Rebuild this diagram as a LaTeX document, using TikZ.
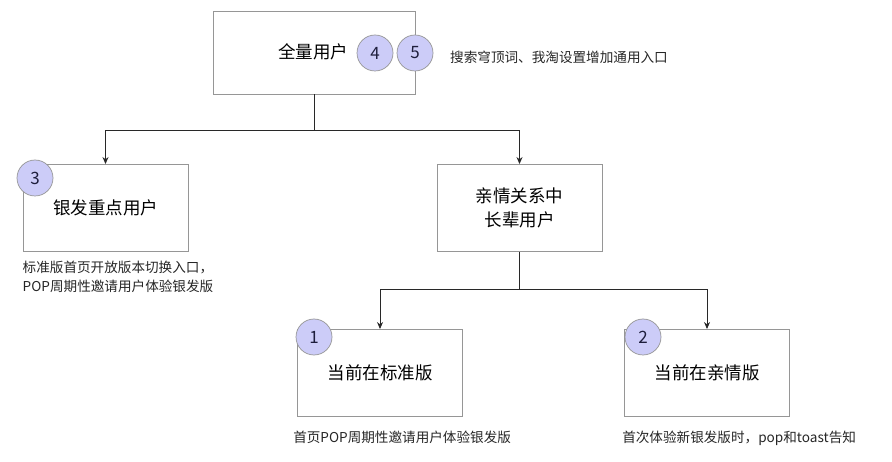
\documentclass[tikz,border=0pt]{standalone}
\usepackage{fontspec}
\setmainfont{Noto Sans CJK SC}
\usepackage{tikz}
\usetikzlibrary{arrows.meta,positioning}
\usepackage{xcolor}
\definecolor{boxline}{RGB}{150,150,150}
\definecolor{badgefill}{RGB}{204,204,248}
\definecolor{badgetext}{RGB}{30,30,60}
\definecolor{wire}{RGB}{40,40,40}

\begin{document}
\begin{tikzpicture}[
      x=1pt, y=-1pt, >={Stealth[length=7pt,width=6pt]},
      group/.style={draw=boxline, line width=0.9pt, align=center, minimum width=165pt,
                    minimum height=87pt, inner sep=0pt, font=\fontsize{17.5}{24}\selectfont},
      badge/.style={draw=boxline, circle, fill=badgefill, minimum size=36pt, inner sep=0pt,
                    line width=0.7pt, text=badgetext, font=\fontsize{17}{20}\selectfont},
      note/.style={inner sep=0pt, align=left, text=black!85,
                   font=\fontsize{13.6}{19}\selectfont},
      wirestyle/.style={draw=wire, line width=0.9pt}
    ]
    \useasboundingbox (0,0) rectangle (892,462);

    \node[group, minimum width=202pt, minimum height=83pt] (all) at (314,52.5) {};
    \node[font=\fontsize{17.5}{20}\selectfont] (alltext) at (313,52) {全量用户};
    \node[badge] (b4) at (375,53) {4};
    \node[badge] (b5) at (415,53) {5};
    \node[note, anchor=west] (allnote) at (450,57) {搜索穹顶词、我淘设置增加通用入口};

    \node[group] (silver) at (105.5,208) {银发重点用户};
    \node[group] (family) at (519.5,208) {亲情关系中\\长辈用户};
    \node[group] (standard) at (380,373) {当前在标准版};
    \node[group] (kin) at (707,373) {当前在亲情版};

    \node[badge] (b3) at (35,178) {3};
    \node[badge] (b1) at (314,337) {1};
    \node[badge] (b2) at (643,337) {2};

    % captions under the boxes
    \node[note, below=9pt of silver.south west, anchor=north west] (silvernote)
      {标准版首页开放版本切换入口，\\POP周期性邀请用户体验银发版};
    \node[note, below=14pt of standard.south west, anchor=north west, xshift=-4pt] (standardnote)
      {首页POP周期性邀请用户体验银发版};
    \node[note, below=14pt of kin.south west, anchor=north west, xshift=-2pt] (kinnote)
      {首次体验新银发版时，pop和toast告知};

    % tree connectors
    \coordinate[below=36pt of all] (fork1);
    \coordinate[below=38pt of family] (fork2);
    \draw[wirestyle, ->] (all.south) -- (fork1) -| (silver.north);
    \draw[wirestyle, ->] (fork1) -| (family.north);
    \draw[wirestyle, ->] (family.south) -- (fork2) -| (standard.north);
    \draw[wirestyle, ->] (fork2) -| (kin.north);
  \end{tikzpicture}
\end{document}
